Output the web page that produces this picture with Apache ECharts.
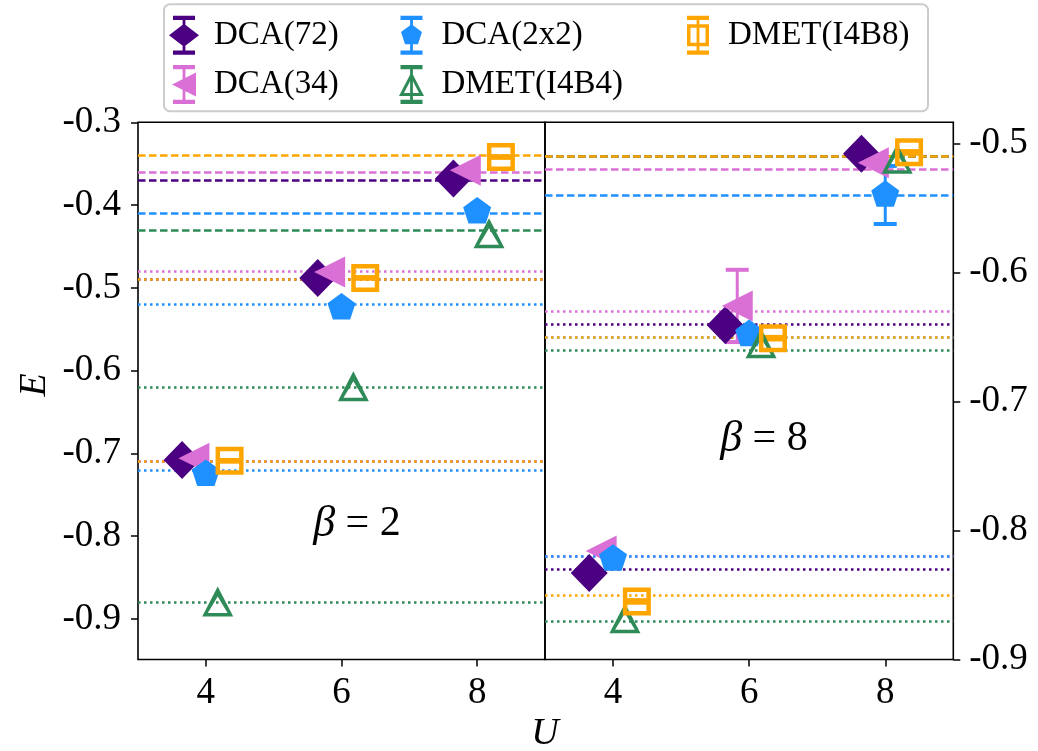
<!DOCTYPE html>
<html><head><meta charset="utf-8">
<script src="https://cdn.jsdelivr.net/npm/echarts@6/dist/echarts.min.js"></script>
<style>html,body{margin:0;padding:0;background:#fff}#c{width:1038px;height:751px}</style>
</head><body><div id="c"></div>
<script>
// ---------------- data ----------------
const U = [4, 6, 8];
const methods = ['DCA(72)', 'DCA(34)', 'DCA(2x2)', 'DMET(I4B4)', 'DMET(I4B8)'];
const uShift = [-0.35, -0.175, 0, 0.175, 0.35];
const yTicksBeta2 = [-0.9, -0.8, -0.7, -0.6, -0.5, -0.4, -0.3];
const yTicksBeta8 = [-0.9, -0.8, -0.7, -0.6, -0.5];
const xTicks = [4, 6, 8];

// beta = 2 : energies at U = 4, 6, 8
const beta2_DCA72    = [-0.708, -0.488, -0.368];
const beta2_DCA34    = [-0.706, -0.481, -0.358];
const beta2_DCA2x2   = [-0.725, -0.524, -0.408];
const beta2_DMET_I4B4 = [-0.879, -0.619, -0.434];
const beta2_DMET_I4B8 = [-0.709, -0.488, -0.342];
// beta = 2 : error bars
const beta2_err_DCA72    = [0, 0, 0];
const beta2_err_DCA34    = [0, 0, 0];
const beta2_err_DCA2x2   = [0, 0, 0];
const beta2_err_DMET_I4B4 = [0, 0, 0];
const beta2_err_DMET_I4B8 = [0.001, 0.001, 0.001];

// beta = 8 : energies at U = 4, 6, 8
const beta8_DCA72    = [-0.833, -0.641, -0.508];
const beta8_DCA34    = [-0.816, -0.626, -0.515];
const beta8_DCA2x2   = [-0.822, -0.648, -0.540];
const beta8_DMET_I4B4 = [-0.868, -0.655, -0.512];
const beta8_DMET_I4B8 = [-0.855, -0.651, -0.507];
// beta = 8 : error bars
const beta8_err_DCA72    = [0, 0, 0];
const beta8_err_DCA34    = [0, 0.028, 0];
const beta8_err_DCA2x2   = [0, 0, 0.0225];
const beta8_err_DMET_I4B4 = [0, 0, 0];
const beta8_err_DMET_I4B8 = [0.001, 0.001, 0.001];

// ---------------- style ----------------
const colors = ['#4B0082', '#DA70D6', '#1E90FF', '#2E8B57', '#FFA500'];
const lineTypeByU = [[2.5, 3.5], [2.5, 3.5], [7.5, 3.5]]; // dotted, dotted, dashed
const FONT = 'Liberation Serif';

const markerSymbols = [
  'diamond',
  'path://M0,15.5 L31,0 L31,31 Z',
  'path://M95.1,0 L190.2,69.1 L153.9,180.9 L36.3,180.9 L0,69.1 Z',
  'path://M15.5,0 L31,30 L0,30 Z M15.5,10 L5.6,26.5 L25.4,26.5 Z',
  'path://M0,0 L28,0 L28,28 L0,28 Z M4.5,4.5 L4.5,23.5 L23.5,23.5 L23.5,4.5 Z'
];
const markerSizes = [[37, 38], [31, 31], [28, 26.6], [31, 30], [28, 28]];
const markerOffsets = [[0, 0], [0, 0], [0, -1.4], [0, 0], [0, 0]];

const ebar = 'M4,0 L26,0 L26,4.3 L4,4.3 Z M4,34.7 L26,34.7 L26,39 L4,39 Z M13.6,4.3 L16.4,4.3 L16.4,34.7 L13.6,34.7 Z ';
const legendIcons = [
  'path://' + ebar + 'M15,8 L30,19.5 L15,31 L0,19.5 Z',
  'path://' + ebar + 'M3,19.5 L27,7.5 L27,31.5 Z',
  'path://' + ebar + 'M15,8.5 L25.46,16.1 L21.47,28.4 L8.53,28.4 L4.54,16.1 Z',
  'path://' + ebar + 'M15,7 L27.5,31 L2.5,31 Z M15,13.5 L7.45,28 L22.55,28 Z',
  'path://' + ebar + 'M4,8.5 L26,8.5 L26,30.5 L4,30.5 Z M7.5,12 L7.5,27 L22.5,27 L22.5,12 Z'
];

const panels = [
  { vals: [beta2_DCA72, beta2_DCA34, beta2_DCA2x2, beta2_DMET_I4B4, beta2_DMET_I4B8],
    errs: [beta2_err_DCA72, beta2_err_DCA34, beta2_err_DCA2x2, beta2_err_DMET_I4B4, beta2_err_DMET_I4B8] },
  { vals: [beta8_DCA72, beta8_DCA34, beta8_DCA2x2, beta8_DMET_I4B4, beta8_DMET_I4B8],
    errs: [beta8_err_DCA72, beta8_err_DCA34, beta8_err_DCA2x2, beta8_err_DMET_I4B4, beta8_err_DMET_I4B8] }
];

function renderErr(params, api) {
  const x = api.value(0), y = api.value(1), e = api.value(2);
  if (!e) return { type: 'group', children: [] };
  const top = api.coord([x, y + e]);
  const bot = api.coord([x, y - e]);
  const color = api.visual('color');
  const cw = 11.5;
  return { type: 'group', children: [
    { type: 'line', shape: { x1: top[0], y1: top[1], x2: bot[0], y2: bot[1] }, style: { stroke: color, lineWidth: 3 } },
    { type: 'line', shape: { x1: top[0] - cw, y1: top[1], x2: top[0] + cw, y2: top[1] }, style: { stroke: color, lineWidth: 4 } },
    { type: 'line', shape: { x1: bot[0] - cw, y1: bot[1], x2: bot[0] + cw, y2: bot[1] }, style: { stroke: color, lineWidth: 4 } }
  ]};
}

const series = [];
panels.forEach((panel, p) => {
  methods.forEach((name, k) => {
    const vals = panel.vals[k], errs = panel.errs[k];
    series.push({
      type: 'custom', name: name + ' err', xAxisIndex: p, yAxisIndex: p, z: 2,
      itemStyle: { color: colors[k] },
      encode: { x: 0, y: 1 },
      data: U.map((u, i) => [u + uShift[k], vals[i], errs[i]]),
      renderItem: renderErr, silent: true
    });
    series.push({
      type: 'scatter', name: name, xAxisIndex: p, yAxisIndex: p, z: 2,
      symbol: markerSymbols[k], symbolSize: markerSizes[k], symbolOffset: markerOffsets[k],
      itemStyle: { color: colors[k], opacity: 1, borderWidth: 0 },
      emphasis: { disabled: true }, silent: true,
      data: U.map((u, i) => [u + uShift[k], vals[i]]),
      markLine: {
        silent: true, z: 1, symbol: ['none', 'none'], label: { show: false },
        animation: false,
        lineStyle: { color: colors[k], width: 2.5, opacity: 1 },
        emphasis: { disabled: true },
        data: vals.map((v, i) => ({ yAxis: v, lineStyle: { type: lineTypeByU[i], color: colors[k], width: 2.5 } }))
      }
    });
  });
});

const tickLabel = { fontFamily: FONT, fontSize: 37, color: '#000' };
function xAxisCfg(g) {
  return {
    gridIndex: g, type: 'value', min: 3, max: 9,
    axisLine: { show: false }, splitLine: { show: false },
    axisTick: { show: true, customValues: xTicks, length: 7, inside: false, lineStyle: { color: '#000', width: 1.5 } },
    axisLabel: Object.assign({ customValues: xTicks, margin: 15, formatter: v => String(v) }, tickLabel)
  };
}

const legendCommon = {
  orient: 'vertical', top: 10.8, itemWidth: 30, itemHeight: 39, itemGap: 10.2,
  selectedMode: false, itemStyle: { borderWidth: 0 }, symbolKeepAspect: true,
  textStyle: { fontFamily: FONT, fontSize: 33, color: '#000', padding: [0, 0, 0, 10] }
};
const legendItem = k => ({ name: methods[k], icon: legendIcons[k] });

const option = {
  animation: false,
  backgroundColor: '#fff',
  grid: [
    { left: 138, top: 122.3, width: 407, height: 537.2, show: true, borderColor: '#000', borderWidth: 1.6, backgroundColor: 'transparent', containLabel: false },
    { left: 545, top: 122.3, width: 408.3, height: 537.2, show: true, borderColor: '#000', borderWidth: 1.6, backgroundColor: 'transparent', containLabel: false }
  ],
  xAxis: [xAxisCfg(0), xAxisCfg(1)],
  yAxis: [
    { gridIndex: 0, type: 'value', min: -0.949, max: -0.3, position: 'left',
      axisLine: { show: false }, splitLine: { show: false },
      axisTick: { show: true, customValues: yTicksBeta2, length: 7, lineStyle: { color: '#000', width: 1.5 } },
      axisLabel: Object.assign({ customValues: yTicksBeta2, margin: 17, formatter: v => v.toFixed(1) }, tickLabel) },
    { gridIndex: 1, type: 'value', min: -0.9, max: -0.4837, position: 'right',
      axisLine: { show: false }, splitLine: { show: false },
      axisTick: { show: true, customValues: yTicksBeta8, length: 7, lineStyle: { color: '#000', width: 1.5 } },
      axisLabel: Object.assign({ customValues: yTicksBeta8, margin: 16, formatter: v => v.toFixed(1) }, tickLabel) }
  ],
  legend: [
    Object.assign({}, legendCommon, { left: 164, data: [legendItem(0), legendItem(1)] }),
    Object.assign({}, legendCommon, { left: 394, data: [legendItem(2), legendItem(3)] }),
    Object.assign({}, legendCommon, { left: 682, data: [legendItem(4)] })
  ],
  graphic: [
    { type: 'rect', z: 0, shape: { x: 164, y: 4.3, width: 764, height: 107, r: 6 },
      style: { fill: '#fff', stroke: '#cccccc', lineWidth: 2 } },
    { type: 'text', x: 35, y: 385, rotation: Math.PI / 2,
      style: { text: 'E', fontFamily: FONT, fontStyle: 'italic', fontSize: 38, fill: '#000', align: 'center', verticalAlign: 'middle' } },
    { type: 'text', x: 545, y: 734,
      style: { text: 'U', fontFamily: FONT, fontStyle: 'italic', fontSize: 38, fill: '#000', align: 'center', verticalAlign: 'middle' } },
    { type: 'text', x: 357, y: 524,
      style: { text: '{b|β} = 2', fontFamily: FONT, fontSize: 42, fill: '#000', align: 'center', verticalAlign: 'middle',
        rich: { b: { fontFamily: FONT, fontStyle: 'italic', fontSize: 44, fill: '#000' } } } },
    { type: 'text', x: 764, y: 439,
      style: { text: '{b|β} = 8', fontFamily: FONT, fontSize: 42, fill: '#000', align: 'center', verticalAlign: 'middle',
        rich: { b: { fontFamily: FONT, fontStyle: 'italic', fontSize: 44, fill: '#000' } } } }
  ],
  series: series
};

const chart = echarts.init(document.getElementById('c'), null, { renderer: 'canvas' });
chart.setOption(option);
</script>
</body></html>
